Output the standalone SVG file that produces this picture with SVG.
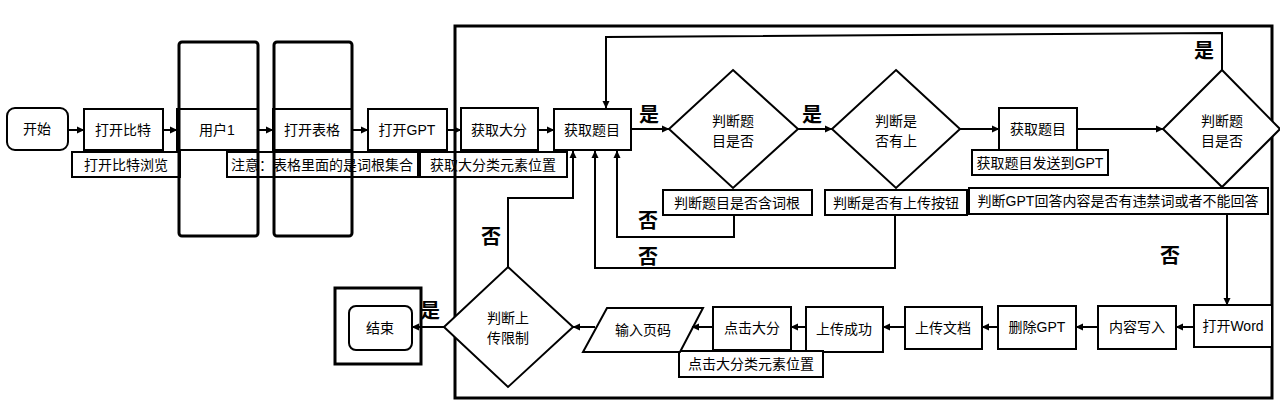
<svg xmlns="http://www.w3.org/2000/svg" width="1280" height="418" viewBox="0 0 1280 418">
<defs>
<marker id="arr" markerWidth="8" markerHeight="8" refX="7" refY="4" orient="auto" markerUnits="userSpaceOnUse">
<path d="M0,0.5 L7.5,4 L0,7.5 z" fill="#000"/>
</marker>
<style>
.n{fill:#fff;stroke:#000;stroke-width:2}
.t{font-family:"Liberation Sans","Noto Sans CJK SC",sans-serif;font-size:14px;fill:#000;text-anchor:middle}
.yn{font-family:"Noto Sans CJK SC","Liberation Sans",sans-serif;font-size:20px;font-weight:bold;fill:#000;text-anchor:middle}
.c{fill:none;stroke:#000;stroke-width:2;marker-end:url(#arr)}
.frame{fill:none;stroke:#000;stroke-width:3}
</style>
</defs>
<rect width="1280" height="418" fill="#fff"/>

<g id="start"><rect class="n" x="7" y="108" width="61" height="42" rx="8"/><text class="t" x="37" y="134">开始</text></g>
<g id="open-bit"><rect class="n" x="84" y="109" width="79" height="41"/><text class="t" x="123" y="135">打开比特</text></g>
<g id="open-bit-note"><rect class="n" x="72" y="152" width="108" height="25"/><text class="t" x="126" y="170">打开比特浏览</text></g>
<g id="user1-inner"><rect class="n" x="177" y="109" width="81" height="41"/><text class="t" x="217" y="135">用户1</text></g>
<g id="open-sheet-inner"><rect class="n" x="273" y="109" width="79" height="41"/><text class="t" x="312" y="135">打开表格</text></g>
<g id="sheet-note"><rect class="n" x="227" y="152" width="191" height="25"/><text class="t" x="322" y="170">注意：表格里面的是词根集合</text></g>
<g id="open-gpt"><rect class="n" x="368" y="109" width="79" height="41"/><text class="t" x="407" y="135">打开GPT</text></g>
<g id="get-cat-note"><rect class="n" x="420" y="152" width="147" height="25"/><text class="t" x="493" y="170">获取大分类元素位置</text></g>
<g id="user1"><rect class="frame" x="179" y="42" width="79" height="194" rx="3"/></g>
<g id="open-sheet"><rect class="frame" x="274" y="42" width="78" height="194" rx="3"/></g>

<g id="loop-frame"><rect class="frame" x="455" y="26" width="817" height="372"/></g>

<g id="get-cat"><rect class="n" x="461" y="108" width="77" height="42"/><text class="t" x="499" y="135">获取大分</text></g>
<g id="get-q"><rect class="n" x="554" y="109" width="77" height="41"/><text class="t" x="592" y="135">获取题目</text></g>
<g id="d1"><polygon class="n" points="733,70 798,129 733,188 669,129"/><text class="t" x="733" y="126">判断题</text><text class="t" x="733" y="146">目是否</text></g>
<g id="d1-note"><rect class="n" x="663" y="190" width="149" height="25"/><text class="t" x="737" y="208">判断题目是否含词根</text></g>
<g id="d2"><polygon class="n" points="896,70 960,129 896,188 832,129"/><text class="t" x="896" y="126">判断是</text><text class="t" x="896" y="146">否有上</text></g>
<g id="d2-note"><rect class="n" x="825" y="190" width="142" height="25"/><text class="t" x="896" y="208">判断是否有上传按钮</text></g>
<g id="get-q2"><rect class="n" x="999" y="108" width="78" height="42"/><text class="t" x="1038" y="134">获取题目</text></g>
<g id="get-q2-note"><rect class="n" x="972" y="150" width="136" height="25"/><text class="t" x="1040" y="168">获取题目发送到GPT</text></g>
<g id="d3"><polygon class="n" points="1222,70 1280,129 1222,187 1163,129"/><text class="t" x="1222" y="126">判断题</text><text class="t" x="1222" y="146">目是否</text></g>
<g id="d3-note"><rect class="n" x="969" y="188" width="299" height="26"/><text class="t" x="1118" y="206">判断GPT回答内容是否有违禁词或者不能回答</text></g>

<g id="open-word"><rect class="n" x="1194" y="305" width="78" height="42"/><text class="t" x="1233" y="331">打开Word</text></g>
<g id="write"><rect class="n" x="1098" y="306" width="78" height="43"/><text class="t" x="1137" y="332">内容写入</text></g>
<g id="del-gpt"><rect class="n" x="998" y="306" width="78" height="43"/><text class="t" x="1037" y="332">删除GPT</text></g>
<g id="upload-doc"><rect class="n" x="905" y="307" width="77" height="42"/><text class="t" x="943" y="333">上传文档</text></g>
<g id="upload-ok"><rect class="n" x="806" y="307" width="77" height="45"/><text class="t" x="844" y="334">上传成功</text></g>
<g id="click-cat-note"><rect class="n" x="679" y="351" width="144" height="26"/><text class="t" x="751" y="369">点击大分类元素位置</text></g>
<g id="click-cat"><rect class="n" x="713" y="307" width="78" height="43"/><text class="t" x="752" y="333">点击大分</text></g>
<g id="page-input"><polygon class="n" points="607,308 703,308 680,352 583,352"/><text class="t" x="643" y="335">输入页码</text></g>
<g id="d4"><polygon class="n" points="508,267 573,327 508,387 444,327"/><text class="t" x="508" y="323">判断上</text><text class="t" x="508" y="343">传限制</text></g>
<g id="end"><rect class="frame" x="335" y="288" width="86" height="76"/><rect class="n" x="349" y="306" width="63" height="44" rx="7"/><text class="t" x="380" y="333">结束</text></g>

<g id="connectors">
<path class="c" d="M68,130 H84"/>
<path class="c" d="M163,130 H177"/>
<path class="c" d="M258,130 H273"/>
<path class="c" d="M352,130 H368"/>
<path class="c" d="M447,130 H461"/>
<path class="c" d="M538,130 H554"/>
<path class="c" d="M631,129 H669"/>
<path class="c" d="M798,129 H832"/>
<path class="c" d="M960,129 H999"/>
<path class="c" d="M1077,129 H1163"/>
<path class="c" d="M1222,70 V33 L606,37 V108"/>
<path class="c" d="M1227,214 V305"/>
<path class="c" d="M734,215 V237 H617 V151"/>
<path class="c" d="M895,215 V268 H595 V151"/>
<path class="c" d="M508,267 V198 H573 V151"/>
<path class="c" d="M1194,327 H1176"/>
<path class="c" d="M1098,327 H1076"/>
<path class="c" d="M998,327 H982"/>
<path class="c" d="M905,327 H883"/>
<path class="c" d="M806,327 H791"/>
<path class="c" d="M713,327 H692"/>
<path class="c" d="M595,327 H573"/>
<path class="c" d="M444,327 H412"/>
</g>

<g id="labels">
<text class="yn" x="649" y="122">是</text>
<text class="yn" x="812" y="122">是</text>
<text class="yn" x="1204" y="58">是</text>
<text class="yn" x="430" y="318">是</text>
<text class="yn" x="648" y="228">否</text>
<text class="yn" x="648" y="264">否</text>
<text class="yn" x="491" y="244">否</text>
<text class="yn" x="1170" y="263">否</text>
</g>
</svg>
